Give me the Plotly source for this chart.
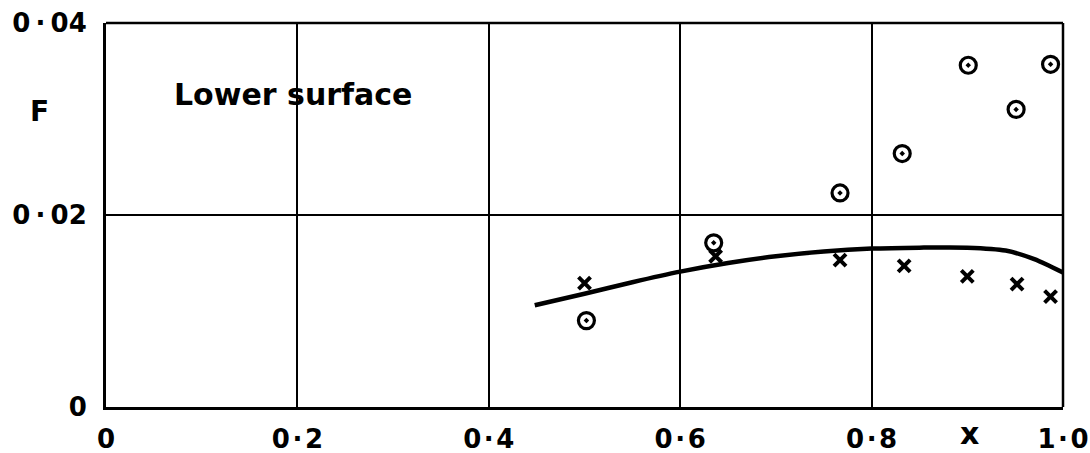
import plotly.graph_objects as go

# Data
x_circles = [0.502, 0.635, 0.767, 0.832, 0.901, 0.951, 0.987]
y_circles = [0.0090, 0.0171, 0.0223, 0.0264, 0.0356, 0.0310, 0.0357]
x_crosses = [0.500, 0.637, 0.767, 0.834, 0.900, 0.952, 0.987]
y_crosses = [0.0129, 0.0157, 0.0153, 0.0147, 0.0136, 0.0128, 0.0115]
x_curve = [0.448, 0.50, 0.55, 0.60, 0.65, 0.70, 0.75, 0.80, 0.85, 0.90, 0.94, 0.97, 1.00]
y_curve = [0.0106, 0.0118, 0.0130, 0.0141, 0.0150, 0.0157, 0.0162, 0.0165, 0.0166, 0.0166, 0.0163, 0.0154, 0.0140]
x_tickvals = [0, 0.2, 0.4, 0.6, 0.8, 1.0]
x_ticktext = ["0", "0\u200a·\u200a2", "0\u200a·\u200a4", "0\u200a·\u200a6", "0\u200a·\u200a8", "1\u200a·\u200a0"]
y_tickvals = [0, 0.02, 0.04]
y_ticktext = ["0", "0\u2009·\u200902", "0\u2009·\u200904"]

FONT = "DejaVu Sans"

fig = go.Figure()
fig.add_trace(go.Scatter(x=x_curve, y=y_curve, mode="lines",
                         line=dict(color="black", width=4.5, shape="spline", smoothing=0.8),
                         showlegend=False, hoverinfo="skip"))
fig.add_trace(go.Scatter(x=x_circles, y=y_circles, mode="markers",
                         marker=dict(symbol="circle-dot", size=16, color="white",
                                     line=dict(color="black", width=3.2)),
                         showlegend=False))
fig.add_trace(go.Scatter(x=x_crosses, y=y_crosses, mode="markers",
                         marker=dict(symbol="x-thin", size=12,
                                     line=dict(color="black", width=4)),
                         showlegend=False))

fig.update_xaxes(range=[0, 1.0], tickvals=x_tickvals, ticktext=x_ticktext,
                 showgrid=True, gridcolor="black", gridwidth=1.5,
                 showline=True, linecolor="black", linewidth=3, mirror=False,
                 zeroline=False, ticks="", ticklabelstandoff=7, automargin=False,
                 ticklabeloverflow="allow",
                 tickfont=dict(family=FONT, size=26, color="black", weight="bold"))
fig.update_yaxes(range=[0, 0.04], tickvals=y_tickvals, ticktext=y_ticktext,
                 showgrid=True, gridcolor="black", gridwidth=1.5,
                 showline=True, linecolor="black", linewidth=3, mirror=False,
                 zeroline=False, ticks="", ticklabelstandoff=11, automargin=False,
                 ticklabeloverflow="allow",
                 tickfont=dict(family=FONT, size=26, color="black", weight="bold"))

# thinner top and right borders
fig.add_shape(type="line", xref="paper", yref="paper", x0=0, x1=1, y0=1, y1=1,
              line=dict(color="black", width=2.5))
fig.add_shape(type="line", xref="paper", yref="paper", x0=1, x1=1, y0=0, y1=1,
              line=dict(color="black", width=2.5))

fig.add_annotation(x=0.195, y=0.0326, xref="x", yref="y", text="Lower surface",
                   xanchor="center", yanchor="middle", showarrow=False,
                   font=dict(family=FONT, size=30, color="black", weight="bold"))
fig.add_annotation(x=-0.069, y=0.769, xref="paper", yref="paper", text="F",
                   xanchor="center", yanchor="middle", showarrow=False,
                   font=dict(family=FONT, size=28, color="black", weight="bold"))
fig.add_annotation(x=0.902, y=-0.070, xref="paper", yref="paper", text="x",
                   xanchor="center", yanchor="middle", showarrow=False,
                   font=dict(family=FONT, size=30, color="black", weight="bold"))

fig.update_layout(width=1090, height=453, plot_bgcolor="white", paper_bgcolor="white",
                  margin=dict(l=106, r=27, t=23, b=46), showlegend=False)

fig.write_html("out.html", config={"displayModeBar": False},
               post_script="document.body.style.margin='0';document.body.style.overflow='hidden';")
